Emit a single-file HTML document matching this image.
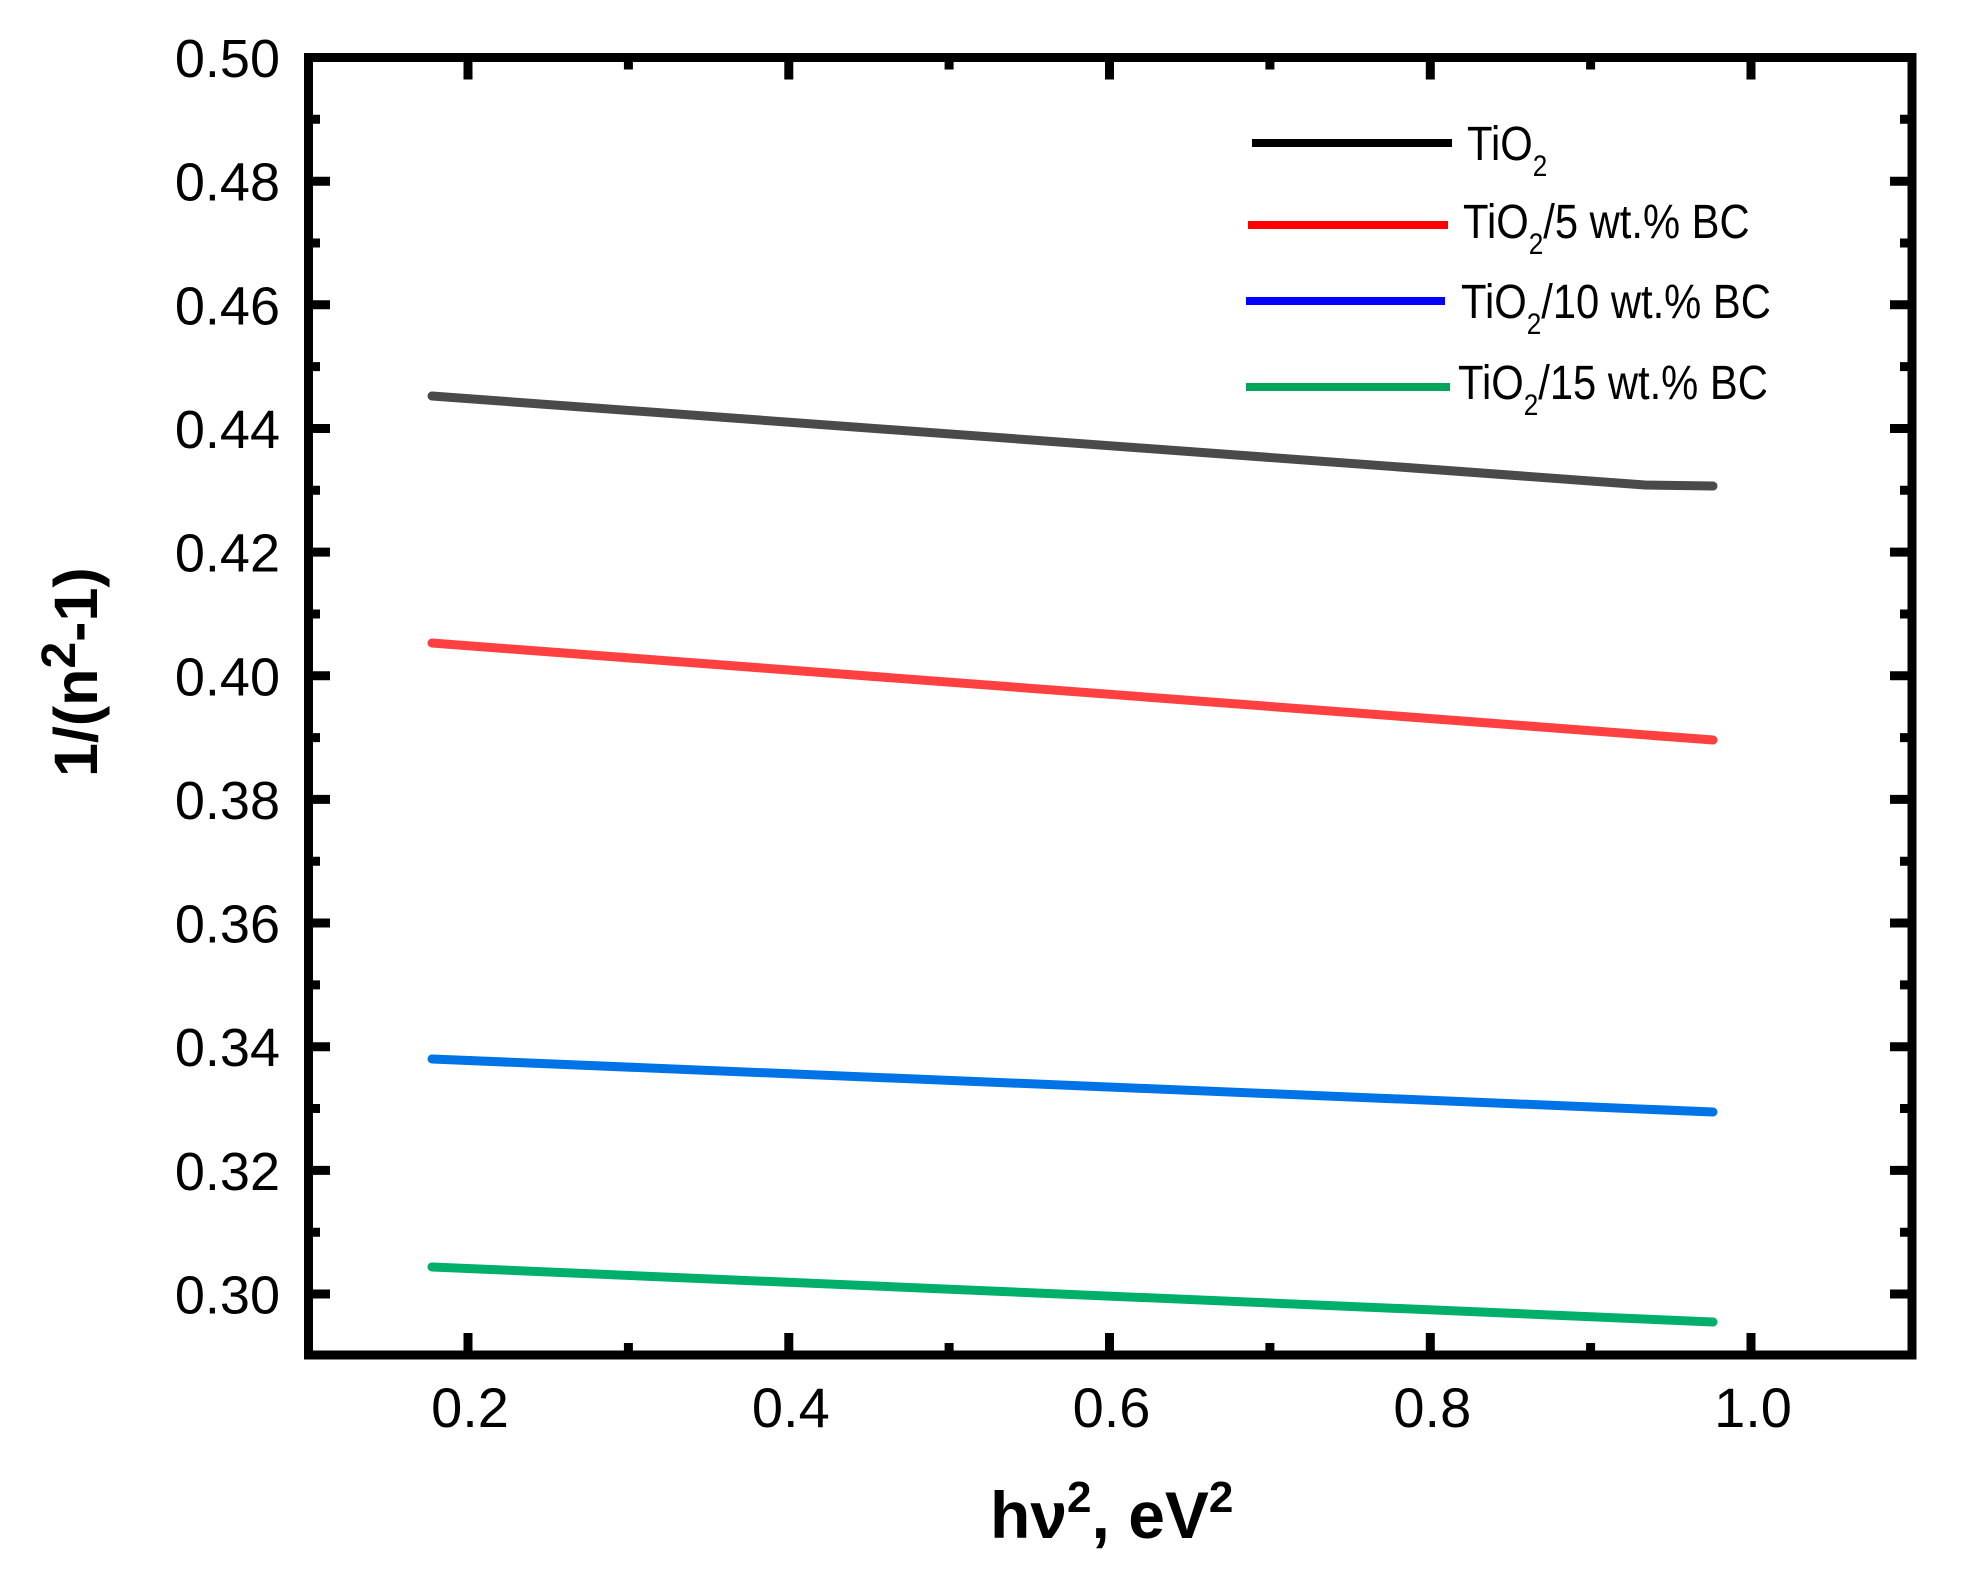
<!DOCTYPE html>
<html><head><meta charset="utf-8"><style>html,body{margin:0;padding:0;background:#fff}</style></head>
<body>
<svg width="1963" height="1577" viewBox="0 0 1963 1577" xmlns="http://www.w3.org/2000/svg" font-family="Liberation Sans, Arial, sans-serif">
<rect width="1963" height="1577" fill="#fff"/>
<g fill="none" stroke-width="9" stroke-linecap="round" stroke-linejoin="round">
<polyline points="432,396 1645,485 1713,486" stroke="#4a4a4a"/>
<line x1="432" y1="643" x2="1713" y2="740" stroke="#ff4040"/>
<line x1="432" y1="1059" x2="1713" y2="1112" stroke="#0073e6"/>
<line x1="432" y1="1267" x2="1713" y2="1322" stroke="#00b06a"/>
</g>
<g stroke="#000" stroke-width="9">
<path d="M308,57.5h22M308,181.2h22M308,304.8h22M308,428.5h22M308,552.1h22M308,675.8h22M308,799.4h22M308,923h22M308,1046.7h22M308,1170.4h22M308,1294h22"/>
<path d="M1912,57.5h-22M1912,181.2h-22M1912,304.8h-22M1912,428.5h-22M1912,552.1h-22M1912,675.8h-22M1912,799.4h-22M1912,923h-22M1912,1046.7h-22M1912,1170.4h-22M1912,1294h-22"/>
<path d="M308,119.3h12M308,243h12M308,366.6h12M308,490.3h12M308,614h12M308,737.6h12M308,861.2h12M308,984.9h12M308,1108.5h12M308,1232.2h12"/>
<path d="M1912,119.3h-12M1912,243h-12M1912,366.6h-12M1912,490.3h-12M1912,614h-12M1912,737.6h-12M1912,861.2h-12M1912,984.9h-12M1912,1108.5h-12M1912,1232.2h-12"/>
<path d="M468,1355v-22M788.8,1355v-22M1109.5,1355v-22M1430.3,1355v-22M1751,1355v-22"/>
<path d="M468,57.5v22M788.8,57.5v22M1109.5,57.5v22M1430.3,57.5v22M1751,57.5v22"/>
<path d="M628.4,1355v-12M949.1,1355v-12M1269.9,1355v-12M1590.6,1355v-12"/>
<path d="M628.4,57.5v12M949.1,57.5v12M1269.9,57.5v12M1590.6,57.5v12"/>
</g>
<rect x="308.5" y="57.5" width="1603.5" height="1297.5" fill="none" stroke="#000" stroke-width="9"/>
<g font-size="54" text-anchor="end" fill="#000">
<text x="280" y="77">0.50</text>
<text x="280" y="200.7">0.48</text>
<text x="280" y="324.3">0.46</text>
<text x="280" y="448">0.44</text>
<text x="280" y="571.6">0.42</text>
<text x="280" y="695.3">0.40</text>
<text x="280" y="818.9">0.38</text>
<text x="280" y="942.5">0.36</text>
<text x="280" y="1066.2">0.34</text>
<text x="280" y="1189.9">0.32</text>
<text x="280" y="1313.5">0.30</text>
</g>
<g font-size="56" text-anchor="middle" fill="#000">
<text x="470" y="1427">0.2</text>
<text x="790.8" y="1427">0.4</text>
<text x="1111.5" y="1427">0.6</text>
<text x="1432.3" y="1427">0.8</text>
<text x="1753" y="1427">1.0</text>
</g>
<text x="990" y="1538" font-size="66" font-weight="bold" fill="#000">hν<tspan font-size="44" dy="-26">2</tspan><tspan dy="26">, eV</tspan><tspan font-size="44" dy="-26">2</tspan></text>
<text transform="translate(97,777) rotate(-90)" font-size="61" font-weight="bold" fill="#000">1/(n<tspan font-size="48" dy="-22">2</tspan><tspan dy="22">-1)</tspan></text>
<g stroke-width="8">
<line x1="1252" y1="143" x2="1452" y2="143" stroke="#000"/>
<line x1="1248" y1="225" x2="1448" y2="225" stroke="#ff0000"/>
<line x1="1246" y1="301" x2="1445" y2="301" stroke="#0000ff"/>
<line x1="1246" y1="387" x2="1450" y2="387" stroke="#00a65a"/>
</g>
<g font-size="48" fill="#000">
<text transform="translate(1467,160) scale(0.87,1)">TiO<tspan font-size="30" dy="16">2</tspan></text>
<text transform="translate(1463,238) scale(0.87,1)">TiO<tspan font-size="30" dy="16">2</tspan><tspan dy="-16">/5 wt.% BC</tspan></text>
<text transform="translate(1461,318) scale(0.87,1)">TiO<tspan font-size="30" dy="16">2</tspan><tspan dy="-16">/10 wt.% BC</tspan></text>
<text transform="translate(1458,399) scale(0.87,1)">TiO<tspan font-size="30" dy="16">2</tspan><tspan dy="-16">/15 wt.% BC</tspan></text>
</g>
</svg>
</body></html>
